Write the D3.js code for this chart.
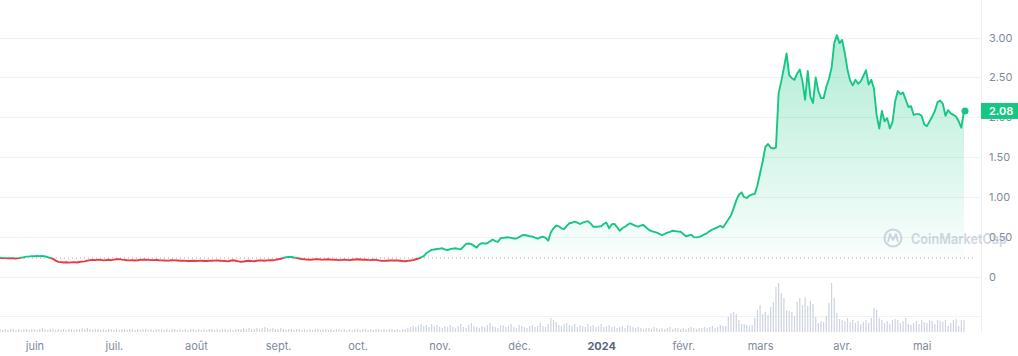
<!DOCTYPE html>
<html><head><meta charset="utf-8">
<script src="https://cdn.jsdelivr.net/npm/d3@7"></script>
<style>
html,body{margin:0;padding:0;background:#fff;}
svg{display:block;font-family:Inter,"Noto Sans",sans-serif;}
</style></head>
<body><svg id="c" width="1018" height="356"></svg>
<script>
// ---- data (daily, 2023-05-19 .. 2024-05-17) ----
const startDate = "2023-05-19";
const basePrice = 0.238;
const prices = [
0.242,0.238,0.236,0.234,0.236,0.234,0.232,0.236,0.242,0.248,
0.255,0.258,0.262,0.260,0.264,0.261,0.263,0.258,0.250,0.240,
0.228,0.205,0.190,0.186,0.182,0.184,0.180,0.183,0.186,0.182,
0.188,0.192,0.196,0.205,0.212,0.215,0.212,0.218,0.214,0.208,
0.212,0.216,0.212,0.218,0.222,0.224,0.218,0.214,0.210,0.208,
0.210,0.207,0.210,0.214,0.218,0.216,0.214,0.212,0.212,0.215,
0.210,0.208,0.207,0.205,0.206,0.210,0.208,0.206,0.204,0.204,
0.202,0.200,0.201,0.203,0.201,0.202,0.204,0.200,0.201,0.203,
0.204,0.205,0.206,0.204,0.202,0.200,0.196,0.204,0.210,0.204,
0.196,0.190,0.194,0.200,0.203,0.200,0.198,0.204,0.208,0.206,
0.204,0.208,0.212,0.210,0.214,0.222,0.228,0.240,0.248,0.252,
0.250,0.244,0.240,0.232,0.226,0.222,0.218,0.216,0.218,0.222,
0.224,0.220,0.218,0.220,0.222,0.218,0.216,0.214,0.212,0.214,
0.216,0.214,0.212,0.216,0.220,0.222,0.220,0.216,0.218,0.214,
0.212,0.216,0.214,0.208,0.204,0.202,0.204,0.206,0.206,0.208,
0.206,0.204,0.200,0.198,0.202,0.206,0.212,0.222,0.232,0.246,
0.262,0.300,0.320,0.340,0.345,0.350,0.355,0.360,0.345,0.338,
0.350,0.355,0.360,0.352,0.348,0.380,0.415,0.420,0.412,0.390,
0.368,0.410,0.425,0.420,0.422,0.445,0.470,0.450,0.440,0.485,
0.490,0.495,0.497,0.490,0.482,0.482,0.500,0.520,0.526,0.520,
0.510,0.505,0.492,0.480,0.495,0.505,0.490,0.455,0.560,0.610,
0.645,0.635,0.610,0.600,0.640,0.673,0.680,0.693,0.680,0.664,
0.680,0.690,0.700,0.670,0.630,0.630,0.632,0.635,0.665,0.680,
0.610,0.660,0.665,0.625,0.580,0.610,0.630,0.655,0.673,0.655,
0.640,0.630,0.645,0.651,0.620,0.590,0.575,0.565,0.555,0.540,
0.526,0.540,0.555,0.565,0.580,0.575,0.570,0.567,0.540,0.510,
0.520,0.530,0.500,0.497,0.503,0.515,0.535,0.550,0.575,0.595,
0.610,0.625,0.640,0.620,0.670,0.720,0.770,0.860,0.960,1.030,
1.060,1.000,0.990,1.020,1.035,1.040,1.150,1.300,1.450,1.630,
1.666,1.620,1.610,1.620,2.300,2.450,2.620,2.800,2.530,2.490,
2.470,2.550,2.600,2.450,2.220,2.580,2.260,2.180,2.500,2.330,
2.240,2.240,2.380,2.480,2.620,2.930,3.030,2.930,2.970,2.800,
2.600,2.460,2.400,2.470,2.420,2.450,2.520,2.590,2.410,2.470,
2.360,2.030,1.860,2.080,1.950,1.990,1.860,1.940,2.200,2.330,
2.290,2.310,2.220,2.130,2.140,2.030,2.040,2.040,2.020,1.910,
1.890,1.950,2.010,2.080,2.190,2.210,2.170,2.020,2.090,2.050,
2.030,2.010,1.950,1.870,2.080
];
// volume, millions USD (estimated relative heights), one per day
const volumes = [
3,2,3,2,3,3,2,3,2,3,  3,2,3,3,2,3,4,3,2,3,  3,2,3,2,3,2,3,3,2,3,
3,4,3,4,3,2,3,3,2,3,  2,3,3,2,3,2,3,3,2,3,  3,2,3,2,3,3,2,3,2,3,
3,3,2,3,2,3,3,2,3,2,  3,2,3,3,2,3,2,3,2,3,  3,2,3,2,3,3,2,3,2,3,
3,3,4,3,4,3,3,4,3,4,  5,4,3,4,3,3,4,3,2,3,  3,2,3,3,2,3,2,3,2,3,
3,2,3,3,2,3,2,3,3,2,  3,2,3,2,3,3,2,3,3,2,  3,2,3,3,2,3,2,3,3,2,
3,2,3,3,4,5,6,5,7,8,  6,7,5,8,6,7,5,4,6,5,  7,5,4,6,8,5,4,7,9,6,
5,4,6,5,7,9,6,5,4,6,  7,5,6,8,5,4,7,6,5,4,
6,7,5,6,9,6,5,8,14,12,
10,7,6,8,9,7,6,8,5,7,  6,5,8,6,7,5,6,8,5,6,  7,5,6,4,5,6,4,7,6,5,
4,5,4,3,4,4,3,5,4,3,  4,3,4,5,3,4,4,3,4,3,  4,5,4,3,4,4,5,4,5,6,
4,5,7,6,6,
15,19,20,18,12,8,8,7,6,7,
14,22,27,18,20,17,25,30,45,49,
39,34,22,21,20,16,30,34,27,35,
26,31,28,15,9,11,10,16,29,49,
34,19,13,12,11,14,10,12,9,11,
8,10,12,9,14,24,22,14,12,9,
11,8,12,13,12,9,11,14,8,7,
9,11,8,12,10,9,12,11,8,12,
11,10,12,6,9,12,13,6,12,12
];
const yTicks = [0, 0.5, 1, 1.5, 2, 2.5, 3];
const monthLabels = ["juin","juil.","août","sept.","oct.","nov.","déc.","2024","févr.","mars","avr.","mai"];

// ---- drawing ----
const W = 1018, H = 356;
const plotRight = 981;
const svg = d3.select("#c");
const t0 = d3.timeParse("%Y-%m-%d")(startDate);
const dates = prices.map((_, i) => d3.timeDay.offset(t0, i));
const data = dates.map((d, i) => ({d, v: prices[i], vol: volumes[i] || 0}));

const x = d3.scaleTime().domain([dates[0], dates[dates.length - 1]]).range([0, 964]);
const y = d3.scaleLinear().domain([0, 3]).range([277, 37.5]);
const yv = d3.scaleLinear().domain([0, 50]).range([332, 282]);

const green = "#16c784", red = "#ea3943", grid = "#f1f2f4", label = "#808a9d";

// gridlines
svg.append("g").selectAll("line").data(yTicks).join("line")
  .attr("x1", 0).attr("x2", plotRight)
  .attr("y1", d => Math.round(y(d)) + 0.5).attr("y2", d => Math.round(y(d)) + 0.5)
  .attr("stroke", grid).attr("stroke-width", 1);
svg.append("line").attr("x1", 0).attr("x2", plotRight).attr("y1", 316.5).attr("y2", 316.5)
  .attr("stroke", grid);
svg.append("line").attr("x1", plotRight + 0.5).attr("x2", plotRight + 0.5).attr("y1", 0).attr("y2", 333)
  .attr("stroke", "#eef0f3");

// volume bars
svg.append("g").selectAll("rect").data(data).join("rect")
  .attr("x", d => x(d.d) - 0.6).attr("width", 1.2)
  .attr("y", d => yv(d.vol)).attr("height", d => yv(0) - yv(d.vol))
  .attr("fill", "#cdd3df");

// defs
const defs = svg.append("defs");
const by = y(basePrice);
defs.append("clipPath").attr("id", "above").append("rect")
  .attr("x", -10).attr("y", 0).attr("width", W + 20).attr("height", by);
defs.append("clipPath").attr("id", "below").append("rect")
  .attr("x", -10).attr("y", by).attr("width", W + 20).attr("height", H - by);
const gg = defs.append("linearGradient").attr("id", "gg").attr("gradientUnits", "userSpaceOnUse")
  .attr("x1", 0).attr("x2", 0).attr("y1", 37).attr("y2", by);
gg.append("stop").attr("offset", 0).attr("stop-color", green).attr("stop-opacity", 0.34);
gg.append("stop").attr("offset", 1).attr("stop-color", green).attr("stop-opacity", 0.02);
const rg = defs.append("linearGradient").attr("id", "rg").attr("gradientUnits", "userSpaceOnUse")
  .attr("x1", 0).attr("x2", 0).attr("y1", by).attr("y2", by + 10);
rg.append("stop").attr("offset", 0).attr("stop-color", red).attr("stop-opacity", 0.02);
rg.append("stop").attr("offset", 1).attr("stop-color", red).attr("stop-opacity", 0.12);

const area = d3.area().x(d => x(d.d)).y0(by).y1(d => y(d.v));
const line = d3.line().x(d => x(d.d)).y(d => y(d.v));

svg.append("path").datum(data).attr("d", area).attr("fill", "url(#gg)").attr("clip-path", "url(#above)");
svg.append("path").datum(data).attr("d", area).attr("fill", "url(#rg)").attr("clip-path", "url(#below)");

// baseline dotted
svg.append("line").attr("x1", 0).attr("x2", 975).attr("y1", by).attr("y2", by)
  .attr("stroke", "#a7afbe").attr("stroke-width", 1).attr("stroke-dasharray", "1 3");

svg.append("path").datum(data).attr("d", line).attr("fill", "none").attr("stroke", green)
  .attr("stroke-width", 1.9).attr("stroke-linejoin", "round").attr("clip-path", "url(#above)");
svg.append("path").datum(data).attr("d", line).attr("fill", "none").attr("stroke", red)
  .attr("stroke-width", 1.9).attr("stroke-linejoin", "round").attr("clip-path", "url(#below)");

const last = data[data.length - 1];
svg.append("circle").attr("cx", x(last.d) + 1).attr("cy", y(last.v)).attr("r", 3.5).attr("fill", green);

// y axis
const yAxis = d3.axisRight(y).tickValues(yTicks).tickSize(0).tickPadding(8)
  .tickFormat(d => d === 0 ? "0" : d.toFixed(2));
const ga = svg.append("g").attr("transform", `translate(${plotRight},0)`).call(yAxis);
ga.select(".domain").remove();
ga.selectAll("text").attr("fill", label).attr("font-size", 11).attr("font-family", "Inter, sans-serif");

// watermark (drawn over the axis label as in the reference)
const wm = svg.append("g").attr("opacity", 0.5);
wm.append("circle").attr("cx", 893).attr("cy", 238).attr("r", 8.5).attr("fill", "none")
  .attr("stroke", "#a6b0c3").attr("stroke-width", 2);
wm.append("path").attr("d", "M888,242 L890,234 L893,240 L896,234 L898,242")
  .attr("fill", "none").attr("stroke", "#a6b0c3").attr("stroke-width", 1.8).attr("stroke-linejoin", "round");
wm.append("text").attr("x", 911).attr("y", 243.5).attr("font-size", 14.5).attr("font-weight", 600)
  .attr("textLength", 96).attr("lengthAdjust", "spacingAndGlyphs")
  .attr("fill", "#a6b0c3").text("CoinMarketCap");

// price label
svg.append("rect").attr("x", plotRight).attr("y", y(last.v) - 8).attr("width", 38).attr("height", 16)
  .attr("fill", green);
svg.append("text").attr("x", plotRight + 8).attr("y", y(last.v) + 4).attr("font-size", 11)
  .attr("font-weight", 600).attr("fill", "#fff").text(last.v.toFixed(2));

// x axis
const monthTicks = d3.timeMonth.range(d3.timeMonth.ceil(dates[0]), dates[dates.length - 1]);
const xAxis = d3.axisBottom(x).tickValues(monthTicks).tickSize(0).tickPadding(0)
  .tickFormat((d, i) => monthLabels[i]);
const gx = svg.append("g").attr("transform", "translate(0,342)").call(xAxis);
gx.select(".domain").remove();
gx.selectAll("text").attr("font-size", 11).attr("font-family", "Inter, sans-serif")
  .attr("font-weight", (d, i) => monthLabels[i] === "2024" ? 700 : 400)
  .attr("fill", (d, i) => monthLabels[i] === "2024" ? "#58667e" : label);
</script></body></html>
